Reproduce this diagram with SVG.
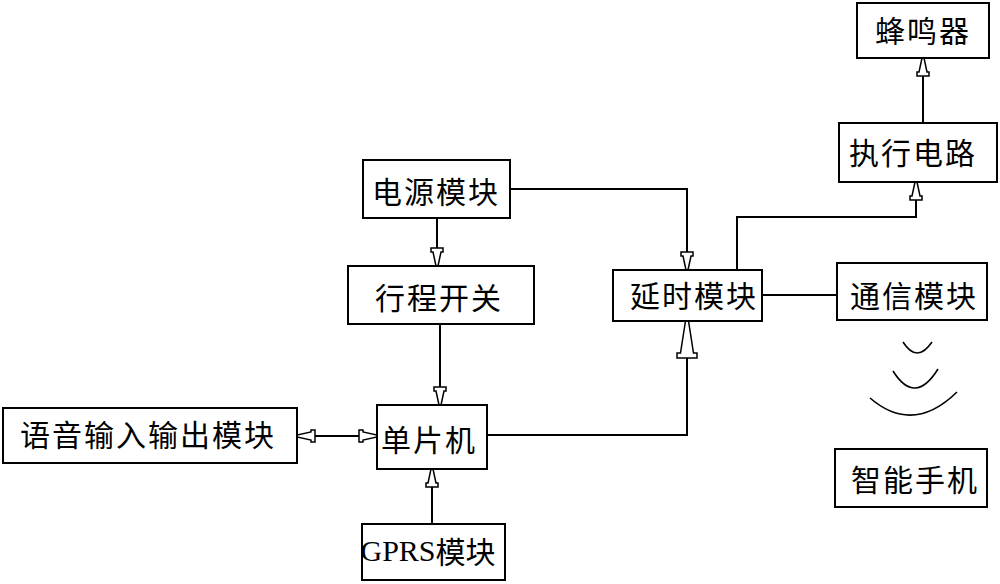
<svg xmlns="http://www.w3.org/2000/svg" width="1000" height="584" viewBox="0 0 1000 584">
<style>
.box{fill:#fff;stroke:#000;stroke-width:2}
.t{font-family:"Noto Sans CJK SC","Noto Sans",sans-serif;font-size:30px;fill:#000;text-anchor:middle;dominant-baseline:central;letter-spacing:2px}
.ln{fill:none;stroke:#000;stroke-width:2}
.wv{fill:none;stroke:#000;stroke-width:1.6}
</style>
<defs>
<marker id="a" markerUnits="userSpaceOnUse" markerWidth="24" markerHeight="16" viewBox="-1 -8 21 16" refX="18" refY="0" orient="auto">
<path d="M0,-6 L4,-6 L4,-4 L18,-1 L18,1 L4,4 L4,6 L0,6 Z" fill="#fff" stroke="#000" stroke-width="1.5"/>
</marker>
<marker id="as" markerUnits="userSpaceOnUse" markerWidth="24" markerHeight="16" viewBox="-1 -8 21 16" refX="18" refY="0" orient="auto-start-reverse">
<path d="M0,-6 L4,-6 L4,-4 L18,-1 L18,1 L4,4 L4,6 L0,6 Z" fill="#fff" stroke="#000" stroke-width="1.5"/>
</marker>
<marker id="b" markerUnits="userSpaceOnUse" markerWidth="42" markerHeight="24" viewBox="-1 -12 40 24" refX="37" refY="0" orient="auto">
<path d="M0,-10 L5,-10 L5,-6.5 L37,-1.5 L37,1.5 L5,6.5 L5,10 L0,10 Z" fill="#fff" stroke="#000" stroke-width="1.5"/>
</marker>
</defs>
<g id="connectors">
<path class="ln" d="M437,218 V266" marker-end="url(#a)"/>
<path class="ln" d="M440,324 V405" marker-end="url(#a)"/>
<path class="ln" d="M510,189 H687 V270" marker-end="url(#a)"/>
<path class="ln" d="M487,435 H687 V321" marker-end="url(#b)"/>
<path class="ln" d="M737,270 V217 H916 V182" marker-end="url(#a)"/>
<path class="ln" d="M923,123 V58" marker-end="url(#a)"/>
<path class="ln" d="M762,295 H837"/>
<path class="ln" d="M297,436 H377" marker-start="url(#as)" marker-end="url(#a)"/>
<path class="ln" d="M432,524 V469" marker-end="url(#a)"/>
</g>
<g id="buzzer"><rect class="box" x="857" y="3" width="132" height="55"/><text class="t" x="923" y="29">蜂鸣器</text></g>
<g id="exec"><rect class="box" x="839" y="123" width="158" height="59"/><text class="t" x="913" y="151">执行电路</text></g>
<g id="delay"><rect class="box" x="613" y="270" width="149" height="51"/><text class="t" x="694" y="294">延时模块</text></g>
<g id="comm"><rect class="box" x="837" y="263" width="150" height="57"/><text class="t" x="914" y="294">通信模块</text></g>
<g id="power"><rect class="box" x="363" y="160" width="147" height="58"/><text class="t" x="436" y="190">电源模块</text></g>
<g id="switch"><rect class="box" x="348" y="266" width="186" height="58"/><text class="t" x="439" y="296">行程开关</text></g>
<g id="voice"><rect class="box" x="3" y="408" width="294" height="55"/><text class="t" x="148" y="433">语音输入输出模块</text></g>
<g id="mcu"><rect class="box" x="377" y="405" width="110" height="64"/><text class="t" x="429" y="438">单片机</text></g>
<g id="gprs"><rect class="box" x="362" y="524" width="143" height="56"/><text class="t" x="428" y="550" style="letter-spacing:0px"><tspan font-family="Liberation Serif,serif">GPRS</tspan>模块</text></g>
<g id="phone"><rect class="box" x="835" y="449" width="152" height="58"/><text class="t" x="915" y="478">智能手机</text></g>
<g id="waves">
<path class="wv" d="M903,342 Q917,364 932,342"/>
<path class="wv" d="M893,371 Q915,406 938,369"/>
<path class="wv" d="M870,398 Q913,435 957,392"/>
</g>
</svg>
